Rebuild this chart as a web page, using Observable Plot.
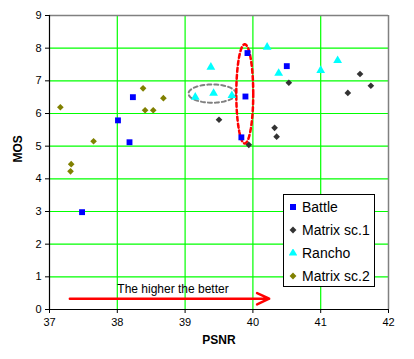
<!DOCTYPE html>
<html><head><meta charset="utf-8">
<script src="https://cdn.jsdelivr.net/npm/d3@7"></script>
<script src="https://cdn.jsdelivr.net/npm/@observablehq/plot@0.6"></script>
<style>
body{margin:0;background:#fff;font-family:"Liberation Sans",Arial,sans-serif;}
#wrap{position:relative;width:414px;height:359px;}
#legend{position:absolute;left:283px;top:194px;width:92px;height:93px;border:1px solid #000;background:#fff;box-sizing:border-box;font-size:14px;color:#000;}
#legend div{position:absolute;left:0;height:16px;line-height:16px;white-space:nowrap;}
#legend svg{position:absolute;left:5px;top:4px;}
#legend span{position:absolute;left:18px;top:0;}
</style></head><body>
<div id="wrap"><div id="legend"></div></div>
<script>
const seriesNames = ["Battle", "Matrix sc.1", "Rancho", "Matrix sc.2"];
const seriesColors = ["#0000ff", "#333333", "#00ffff", "#808000"];
const seriesSymbols = ["square", "diamond2", "triangle", "diamond2"];

const battlePSNR = [37.48, 38.01, 38.18, 38.23, 39.83, 39.89, 39.92, 40.50];
const battleMOS  = [2.98, 5.79, 5.12, 6.50, 5.27, 6.52, 7.85, 7.45];

const matrix1PSNR = [39.50, 39.94, 40.32, 40.35, 40.53, 41.40, 41.58, 41.74];
const matrix1MOS  = [5.81, 5.04, 5.56, 5.29, 6.94, 6.63, 7.21, 6.85];

const ranchoPSNR = [39.15, 39.38, 39.42, 39.69, 40.21, 40.38, 41.00, 41.25];
const ranchoMOS  = [6.50, 7.42, 6.62, 6.55, 8.03, 7.23, 7.32, 7.62];

const matrix2PSNR = [37.16, 37.31, 37.32, 37.65, 38.38, 38.41, 38.53, 38.68];
const matrix2MOS  = [6.19, 4.23, 4.45, 5.15, 6.77, 6.10, 6.10, 6.47];

const xTicks = [37, 38, 39, 40, 41, 42];
const yTicks = [0, 1, 2, 3, 4, 5, 6, 7, 8, 9];

// annotations: ellipses [cx, cy, rx, ry], arrow, label
const grayEllipse = [39.40, 6.61, 0.35, 0.28];
const redEllipse = [39.88, 6.60, 0.125, 1.52];
const arrowFrom = [37.3, 0.33];
const arrowTo = [40.24, 0.33];
const arrowLabel = "The higher the better";
const arrowLabelPos = [38.0, 0.62];

const xs = [battlePSNR, matrix1PSNR, ranchoPSNR, matrix2PSNR];
const ys = [battleMOS, matrix1MOS, ranchoMOS, matrix2MOS];
const points = [];
seriesNames.forEach((s, i) => xs[i].forEach((x, j) => points.push({series: s, x, y: ys[i][j], idx: i})));

function ellipsePts(e) {
  const pts = [];
  for (let k = 0; k <= 72; k++) {
    const t = k / 72 * 2 * Math.PI;
    pts.push({x: e[0] + e[2] * Math.cos(t), y: e[1] + e[3] * Math.sin(t)});
  }
  return pts;
}

const font = "Liberation Sans, Arial, sans-serif";
const chart = Plot.plot({
  width: 414, height: 359,
  marginLeft: 49, marginRight: 26, marginTop: 15, marginBottom: 50,
  style: {fontFamily: font, fontSize: "11px", background: "#fff", color: "#000"},
  x: {domain: [37, 42]},
  y: {domain: [0, 9]},
  marks: [
    Plot.gridX(xTicks.slice(1, -1), {stroke: "#00ff00", strokeOpacity: 1, strokeWidth: 1.2}),
    Plot.gridY(yTicks.slice(1, -1), {stroke: "#00ff00", strokeOpacity: 1, strokeWidth: 1.2}),
    Plot.ruleY([9], {stroke: "#808080", strokeWidth: 1.5}),
    Plot.ruleX([42], {stroke: "#808080", strokeWidth: 1.5}),
    Plot.axisX({ticks: xTicks, tickFormat: d3.format("d"), tickSize: 4, tickPadding: 5, label: null, stroke: "#000"}),
    Plot.axisY({ticks: yTicks, tickFormat: d3.format("d"), tickSize: 4, tickPadding: 4, label: null, stroke: "#000"}),
    Plot.ruleX([37], {stroke: "#000", strokeWidth: 1.2}),
    Plot.ruleY([0], {stroke: "#000", strokeWidth: 1.2}),
    Plot.line(ellipsePts(grayEllipse), {x: "x", y: "y", stroke: "#808080", strokeWidth: 2, strokeDasharray: "4,3"}),
    Plot.line(ellipsePts(redEllipse), {x: "x", y: "y", stroke: "#ff0000", strokeWidth: 2.5, strokeDasharray: "4,3"}),
    Plot.dot(points, {x: "x", y: "y",
      symbol: d => seriesSymbols[d.idx],
      fill: d => seriesColors[d.idx],
      r: d => d.idx === 0 ? 3.9 : d.idx === 2 ? 3.8 : 3.2,
      stroke: "none"}),
    Plot.arrow([{x1: arrowFrom[0], y1: arrowFrom[1], x2: arrowTo[0], y2: arrowTo[1]}],
      {x1: "x1", y1: "y1", x2: "x2", y2: "y2", stroke: "#ff0000", strokeWidth: 2.5, headLength: 8, headAngle: 50}),
    Plot.text([arrowLabel], {x: arrowLabelPos[0], y: arrowLabelPos[1], text: d => d, textAnchor: "start", fontSize: 12, fill: "#000"}),
    Plot.text(["PSNR"], {frameAnchor: "bottom", dy: 34, text: d => d, fontWeight: "bold", fontSize: 12}),
    Plot.text(["MOS"], {frameAnchor: "left", dx: -31, rotate: -90, text: d => d, fontWeight: "bold", fontSize: 12})
  ]
});
document.getElementById("wrap").prepend(chart);
chart.style.position = "absolute"; chart.style.left = "0"; chart.style.top = "0";

const legend = document.getElementById("legend");
const symPaths = seriesSymbols.map(s => ({square: d3.symbolSquare, diamond2: d3.symbolDiamond2, triangle: d3.symbolTriangle})[s]);
seriesNames.forEach((name, i) => {
  const row = document.createElement("div");
  row.style.top = (4 + i * 23) + "px";
  row.style.width = "88px";
  const p = d3.symbol(symPaths[i], i === 0 ? 36 : 30)();
  row.innerHTML = `<svg width="8" height="8" viewBox="-4 -4 8 8"><path d="${p}" fill="${seriesColors[i]}"/></svg><span>${name}</span>`;
  legend.appendChild(row);
});
</script>
</body></html>
